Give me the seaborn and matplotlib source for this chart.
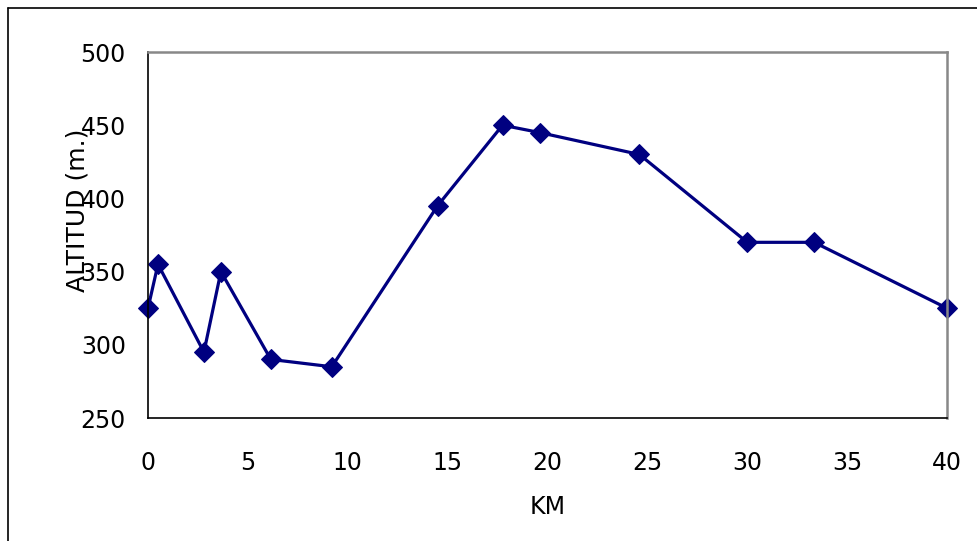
import matplotlib
matplotlib.use("Agg")
import matplotlib.pyplot as plt
from matplotlib.lines import Line2D
import seaborn as sns
import pandas as pd

km = [0, 0.5, 2.8, 3.65, 6.15, 9.2, 14.5, 17.75, 19.6, 24.6, 30.0, 33.35, 40]
altitud = [325, 355, 295, 350, 290, 285, 395, 450, 445, 430, 370, 370, 325]
x_ticks = [0, 5, 10, 15, 20, 25, 30, 35, 40]
y_ticks = [250, 300, 350, 400, 450, 500]

df = pd.DataFrame({"KM": km, "ALTITUD": altitud})

sns.set_style("white")
plt.rcParams['font.family'] = ['DejaVu Sans']

W, H = 977, 541
fig = plt.figure(figsize=(W / 100, H / 100), dpi=100)
ax = fig.add_axes([148 / W, 1 - 418 / H, (947 - 148) / W, (418 - 52) / H])

sns.lineplot(data=df, x="KM", y="ALTITUD", ax=ax, color="#000080", linewidth=2.3,
             marker="D", markersize=10, markeredgecolor="#000080", clip_on=False)

ax.set_xlim(0, 40)
ax.set_ylim(250, 500)
ax.set_xticks(x_ticks)
ax.set_yticks(y_ticks)
ax.tick_params(axis="both", direction="out", length=7, width=1, color="black",
               labelsize=17, labelcolor="black")
ax.tick_params(axis="y", pad=9)
ax.tick_params(axis="x", pad=17)

for side in ["left", "bottom"]:
    ax.spines[side].set_color("black")
    ax.spines[side].set_linewidth(1.2)
for side in ["top", "right"]:
    ax.spines[side].set_color("#888888")
    ax.spines[side].set_linewidth(1.8)

# axis titles: the y title sits over the tick labels, as in the original
ax.set_xlabel("KM", fontsize=17, labelpad=14, color="black")
ax.set_ylabel("ALTITUD (m.)", fontsize=18, color="black")
ax.yaxis.set_label_coords(-0.0726, 0.568)

# outer chart frame (left and top edges visible)
fig.add_artist(Line2D([8 / W, 8 / W], [0, 1 - 8 / H], color="black", linewidth=1.2))
fig.add_artist(Line2D([8 / W, 1], [1 - 8 / H, 1 - 8 / H], color="black", linewidth=1.2))

fig.savefig("out.png", dpi=100)
